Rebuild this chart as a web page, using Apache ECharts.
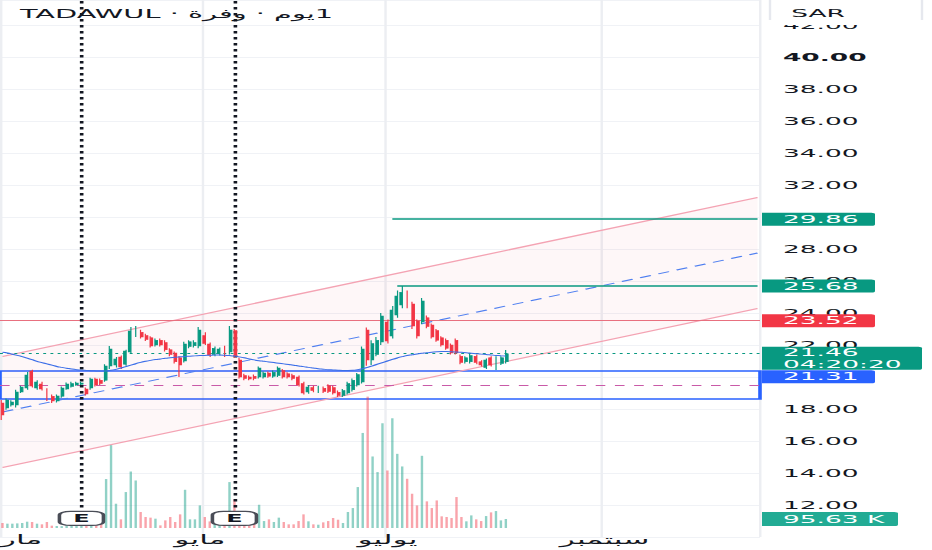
<!DOCTYPE html>
<html><head><meta charset="utf-8">
<script src="https://cdn.jsdelivr.net/npm/echarts@6/dist/echarts.min.js"></script>
<style>
html,body{margin:0;padding:0;background:#fff;overflow:hidden}
#wrap{width:932px;height:550px;overflow:hidden;position:relative;background:#fff}
#chart{width:388px;height:550px;transform:scaleX(2.40206);transform-origin:0 0}
</style></head>
<body><div id="wrap"><div id="chart"></div></div>
<script>
// ---------- data ----------
const categoryCount = 154;
const monthLabels = {0: 'مارس', 40: 'مايو', 78: 'يوليو', 122: 'سبتمبر'};
const monthLines = [0, 41, 78, 122];

const open  = [18.38,18.06,18.25,18.25,19.06,19.31,20.37,19.31,19.56,19.25,18.8,18.5,18.8,19.25,19.4,19.5,19.55,19.25,19.31,19.87,19.8,19.8,20.69,20.75,21.25,20.8,21.56,22.62,22.8,22.6,22.45,22.0,22.3,22.15,21.7,21.5,21.2,21.0,21.9,21.95,21.94,22.6,22.06,21.4,21.45,21.85,21.56,22.9,21.06,20.1,20.0,20.05,20.0,20.0,20.25,20.05,20.1,20.4,20.2,20.1,20.0,19.6,19.06,19.35,19.1,19.3,19.45,19.35,19.05,18.85,19.0,19.2,19.5,19.69,22.94,21.06,21.4,22.19,23.44,22.56,23.87,24.5,25.25,24.56,23.5,23.44,23.7,23.25,22.9,22.45,22.3,22.0,22.3,21.3,20.95,20.95,21.3,20.95,20.6,21.2,20.8,20.85,20.95];
const high  = [18.56,18.65,18.55,19.2,19.45,20.31,20.45,19.8,19.7,19.3,18.9,18.9,19.4,19.65,19.7,19.7,19.7,19.35,19.95,19.95,19.9,20.8,21.94,21.25,21.35,21.7,23.12,23.19,22.95,22.7,22.55,22.4,22.4,22.3,21.8,21.6,21.3,22.2,22.3,22.3,23.12,22.8,22.15,21.9,21.85,21.95,23.19,23.0,21.2,20.2,20.1,20.15,20.65,20.35,20.35,20.4,20.65,20.5,20.3,20.2,20.1,19.7,19.5,19.45,19.45,19.4,19.55,19.45,19.15,19.25,19.7,19.9,20.25,21.9,23.1,22.3,22.5,24.0,23.6,24.44,25.4,25.68,25.4,24.7,23.6,24.94,23.85,23.35,23.0,22.55,22.4,22.1,22.4,21.4,21.3,21.45,21.4,21.05,21.15,21.3,21.3,21.3,21.69];
const low   = [17.31,17.95,18.15,18.1,19.0,19.2,19.35,19.2,19.15,18.5,18.38,18.4,18.7,19.2,19.35,19.45,19.5,18.85,19.2,19.4,19.5,19.7,20.5,20.6,20.5,20.7,21.45,22.5,22.4,22.25,21.85,21.9,21.9,21.6,21.3,20.85,20.0,20.9,21.8,21.85,21.8,22.0,21.25,21.3,21.35,21.25,21.4,21.2,19.9,19.8,19.8,19.8,19.9,19.9,19.95,19.95,20.0,19.9,19.9,19.8,19.4,18.9,18.95,19.05,19.0,19.0,19.0,18.9,18.75,18.75,18.9,19.1,19.4,19.6,20.7,20.75,21.3,22.0,22.1,22.4,23.7,24.3,24.3,23.0,22.4,23.3,23.05,22.4,22.2,21.9,21.7,21.4,21.4,20.8,20.85,20.85,20.8,20.65,20.5,20.65,20.44,20.75,20.85];
const close = [17.62,18.56,18.44,19.06,19.37,20.12,19.44,19.69,19.25,18.69,18.5,18.81,19.31,19.56,19.6,19.62,19.62,18.94,19.87,19.5,19.6,20.69,21.75,21.12,20.62,21.62,22.87,23.0,22.5,22.35,21.94,22.3,22.0,21.7,21.4,20.95,20.75,22.06,22.2,22.15,22.94,22.1,21.37,21.8,21.75,21.35,22.94,21.31,20.0,19.9,19.88,19.9,20.56,20.25,20.05,20.3,20.56,20.0,20.0,19.9,19.5,19.0,19.37,19.15,19.35,19.1,19.1,19.0,18.85,19.15,19.6,19.8,20.15,21.75,21.06,22.1,22.3,23.81,22.25,24.19,25.06,25.3,24.44,23.19,22.56,24.75,23.15,22.5,22.3,22.0,21.8,21.5,21.5,20.9,21.2,21.35,20.9,20.75,21.06,20.75,21.2,21.2,21.46];
// volume in thousands
const volume = [53,46,46,49,53,67,64,46,39,64,25,21,20,24,22,26,30,28,35,30,40,520,880,258,92,382,600,505,170,117,110,99,28,81,117,64,145,406,92,92,240,117,70,60,65,80,488,304,110,60,50,55,247,74,92,64,110,64,39,39,74,145,71,39,35,60,74,106,88,53,170,212,435,1010,1396,760,594,1113,611,1166,788,654,523,364,240,767,283,212,293,124,117,106,329,117,71,134,92,74,127,166,180,81,95.63];
// moving average
const ma = [21.55,21.5,21.42,21.35,21.27,21.18,21.08,20.98,20.9,20.82,20.74,20.66,20.6,20.55,20.5,20.46,20.43,20.41,20.39,20.38,20.37,20.38,20.42,20.48,20.56,20.65,20.74,20.83,20.91,20.98,21.04,21.09,21.13,21.17,21.2,21.23,21.26,21.28,21.3,21.32,21.34,21.35,21.36,21.37,21.37,21.36,21.34,21.31,21.26,21.2,21.13,21.07,21.02,20.98,20.94,20.9,20.86,20.82,20.78,20.74,20.69,20.65,20.6,20.56,20.52,20.49,20.46,20.44,20.42,20.41,20.41,20.42,20.46,20.52,20.6,20.7,20.8,20.9,21.0,21.1,21.19,21.27,21.34,21.39,21.44,21.48,21.52,21.55,21.58,21.59,21.59,21.58,21.56,21.54,21.52,21.49,21.46,21.43,21.41,21.38,21.35,21.33,21.31];

// regression channel endpoints (category index, price)
const channelX = [0, 153];
const channelUpper = [21.28, 31.22];
const channelMiddle = [17.81, 27.75];
const channelLower = [14.34, 24.28];

// drawn levels
const levelResistance = 23.52;
const levelTarget1 = 29.86, levelTarget1Start = 79;
const levelTarget2 = 25.68, levelTarget2Start = 80;
const lastPrice = 21.46, countdown = '04:20:20';
const maLast = 21.31;
const lastVolumeLabel = '95.63 K';
const zoneTop = 20.37, zoneBottom = 18.62, zoneMid = 19.5;
const earningsIdx = [16, 47];
const priceMin = 10, priceMax = 43.5625, priceStep = 2;
const volumeMax = 2125;

// ---------- layout (ref px -> chart px) ----------
const SX = 932 / 388;
const R = v => v / SX;
const FONT = '"DejaVu Sans", "Noto Sans", sans-serif';
const UP = '#089981', DOWN = '#f23645';

const cats = Array.from({length: categoryCount}, (_, i) => 'd' + i);
const candles = open.map((o, i) => [o, close[i], low[i], high[i]]);

const chart = echarts.init(document.getElementById('chart'), null, {renderer: 'svg'});
const gridRight = 388 - R(760);

chart.setOption({
  animation: false,
  backgroundColor: '#ffffff',
  title: {
    text: 'TADAWUL · وفرة\u200E · يوم\u200E1',
    left: R(20), top: 8, padding: 0,
    textStyle: {fontSize: 12, fontWeight: 'normal', color: '#131722', fontFamily: FONT}
  },
  grid: [
    {left: 0, right: gridRight, top: 0, bottom: 13, outerBoundsMode: 'none', containLabel: false},
    {left: 0, right: gridRight, top: 328, bottom: 22, outerBoundsMode: 'none', containLabel: false}
  ],
  xAxis: [
    {type: 'category', gridIndex: 0, data: cats, boundaryGap: true,
     axisLine: {show: false}, axisTick: {show: false}, axisLabel: {show: false},
     splitLine: {show: true, interval: (i) => monthLines.includes(i), lineStyle: {color: '#eceef2', width: 1}}},
    {type: 'category', gridIndex: 1, data: cats, boundaryGap: true,
     axisLine: {show: false}, axisTick: {show: false}, splitLine: {show: false},
     axisLabel: {show: true, interval: (i) => monthLabels[i] !== undefined,
       formatter: (v, i) => monthLabels[i] || '', margin: 5, fontSize: 13, color: '#131722', fontFamily: FONT}}
  ],
  yAxis: [
    {type: 'value', gridIndex: 0, position: 'right', min: priceMin, max: priceMax, interval: priceStep,
     axisLine: {show: false}, axisTick: {show: false},
     splitLine: {show: true, lineStyle: {color: '#f0f2f6', width: 1}},
     axisLabel: {show: true, margin: R(23), fontSize: 11, color: '#131722', fontFamily: FONT,
       showMinLabel: false, showMaxLabel: false,
       formatter: v => Math.abs(v - 40) < 1e-6 ? '{b|40.00}' : v.toFixed(2),
       rich: {b: {fontWeight: 'bold', fontSize: 11, color: '#131722', fontFamily: FONT}}}},
    {type: 'value', gridIndex: 1, min: 0, max: volumeMax, show: false, splitLine: {show: false}}
  ],
  series: [
    {
      type: 'custom', xAxisIndex: 0, yAxisIndex: 0, z: 1, silent: true,
      data: [[0]],
      renderItem: (params, api) => {
        const u0 = api.coord([channelX[0], channelUpper[0]]);
        const u1 = api.coord([channelX[1], channelUpper[1]]);
        const l1 = api.coord([channelX[1], channelLower[1]]);
        const l0 = api.coord([channelX[0], channelLower[0]]);
        return {type: 'polygon', shape: {points: [u0, u1, l1, l0]}, style: {fill: 'rgba(242,54,69,0.04)'}};
      }
    },
    {type: 'line', xAxisIndex: 0, yAxisIndex: 0, z: 2, symbol: 'none', silent: true,
     data: channelX.map((x, i) => [x, channelUpper[i]]), lineStyle: {color: '#f4a3b3', width: 1.2}},
    {type: 'line', xAxisIndex: 0, yAxisIndex: 0, z: 2, symbol: 'none', silent: true,
     data: channelX.map((x, i) => [x, channelLower[i]]), lineStyle: {color: '#f4a3b3', width: 1.2}},
    {type: 'line', xAxisIndex: 0, yAxisIndex: 0, z: 2, symbol: 'none', silent: true,
     data: channelX.map((x, i) => [x, channelMiddle[i]]), lineStyle: {color: '#4f7ff0', width: 1, type: [5, 3.5]}},
    {
      type: 'candlestick', xAxisIndex: 0, yAxisIndex: 0, z: 5, barWidth: '70%',
      data: candles,
      itemStyle: {color: UP, color0: DOWN, borderColor: UP, borderColor0: DOWN, borderWidth: 0.5},
      markArea: {silent: true, data: [[
        {yAxis: zoneTop, itemStyle: {color: 'rgba(0,0,0,0)', borderColor: '#2962ff', borderWidth: 1.5}},
        {yAxis: zoneBottom}
      ]]},
      markLine: {
        silent: true, symbol: ['none', 'none'], label: {show: false},
        data: [
          {yAxis: levelResistance, lineStyle: {color: '#e8707f', width: 1, type: 'solid'}},
          {yAxis: lastPrice, lineStyle: {color: UP, width: 1, type: [1.2, 1.8]}},
          {yAxis: zoneMid, lineStyle: {color: '#c95aa8', width: 1.2, type: [4, 4]}},
          [{coord: [levelTarget1Start, levelTarget1], lineStyle: {color: UP, width: 1.5, type: 'solid'}}, {coord: [categoryCount - 1, levelTarget1]}],
          [{coord: [levelTarget2Start, levelTarget2], lineStyle: {color: UP, width: 1.5, type: 'solid'}}, {coord: [categoryCount - 1, levelTarget2]}],
          [{coord: [earningsIdx[0], 43.5], lineStyle: {color: '#131722', width: 1.5, type: [2.5, 3.5]}}, {coord: [earningsIdx[0], 11.7]}],
          [{coord: [earningsIdx[1], 43.5], lineStyle: {color: '#131722', width: 1.5, type: [2.5, 3.5]}}, {coord: [earningsIdx[1], 11.7]}]
        ]
      },
      markPoint: {
        silent: true, symbol: 'roundRect', symbolSize: [R(44), 14],
        itemStyle: {color: '#ffffff', borderColor: '#4a4d57', borderWidth: 1.3},
        label: {show: true, formatter: 'E', color: '#131722', fontSize: 10, fontWeight: 'bold', fontFamily: FONT},
        data: earningsIdx.map(i => ({coord: [i, 11.16]}))
      }
    },
    {type: 'line', xAxisIndex: 0, yAxisIndex: 0, z: 6, symbol: 'none', smooth: true, silent: true,
     data: ma, lineStyle: {color: '#3b6ee8', width: 1}},
    {type: 'bar', xAxisIndex: 1, yAxisIndex: 1, z: 3, barWidth: '40%', silent: true,
     data: volume,
     itemStyle: {color: p => close[p.dataIndex] >= open[p.dataIndex] ? 'rgba(8,153,129,0.45)' : 'rgba(242,54,69,0.45)'}}
  ]
});

// ---------- price tags on the right scale ----------
const yPx = v => chart.convertToPixel({yAxisIndex: 0}, v);
const vPx = v => chart.convertToPixel({yAxisIndex: 1}, v);
const TOP_Z = 200;
function tag(top, h, wRef, fill, lines) {
  const els = [{type: 'rect', z: TOP_Z, shape: {x: R(762), y: top, width: R(wRef), height: h, r: [0, 1.5, 1.5, 0]}, style: {fill}}];
  lines.forEach((t, k) => els.push({type: 'text', z: TOP_Z + 1, style: {
    text: t, x: R(783), y: top + (h / lines.length) * (k + 0.5), fill: '#ffffff',
    fontSize: 11, fontFamily: FONT, align: 'left', verticalAlign: 'middle'}}));
  return els;
}
const t1 = yPx(levelTarget1), t2 = yPx(levelTarget2), t3 = yPx(levelResistance), tp = yPx(lastPrice);
const lastTop = tp - 7;
chart.setOption({graphic: [
  {type: 'rect', z: TOP_Z, shape: {x: R(762), y: 0, width: R(170), height: 25}, style: {fill: '#ffffff'}},
  {type: 'line', z: TOP_Z, shape: {x1: R(770), y1: 0, x2: R(770), y2: 20}, style: {stroke: '#e6e8ee', lineWidth: 1}},
  {type: 'line', z: TOP_Z, shape: {x1: R(922), y1: 0, x2: R(922), y2: 20}, style: {stroke: '#e6e8ee', lineWidth: 1}},
  {type: 'text', z: TOP_Z + 1, style: {text: 'SAR', x: R(818), y: 13, fill: '#131722', fontSize: 11, fontFamily: FONT, align: 'center', verticalAlign: 'middle'}}
].concat(
  tag(t1 - 6.5, 13, 113, UP, [levelTarget1.toFixed(2)]),
  tag(t2 - 6.5, 13, 113, UP, [levelTarget2.toFixed(2)]),
  tag(t3 - 6.5, 13, 113, DOWN, [levelResistance.toFixed(2)]),
  tag(lastTop, 23, 160, UP, [lastPrice.toFixed(2), countdown]),
  tag(lastTop + 23.5, 13, 113, '#2962ff', [maLast.toFixed(2)]),
  tag(vPx(volume[volume.length - 1]) - 7, 14, 136, '#22ab94', [lastVolumeLabel])
)});
</script>
</body></html>
